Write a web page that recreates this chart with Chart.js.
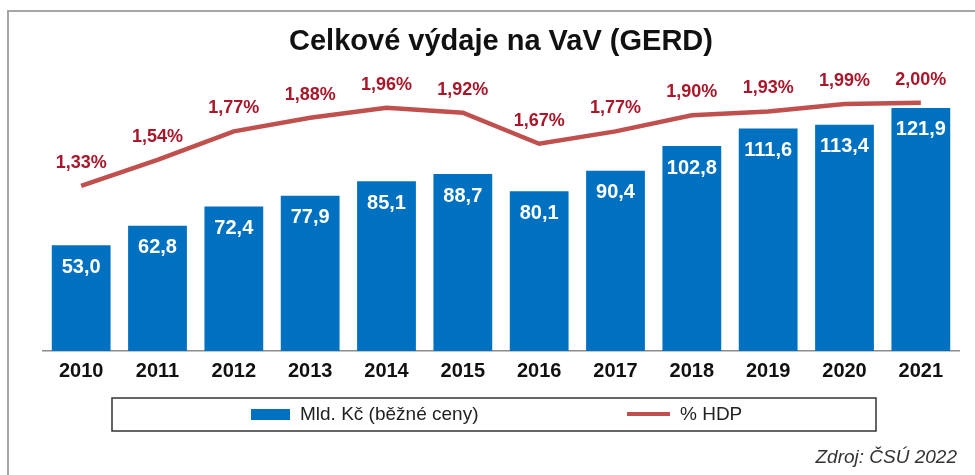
<!DOCTYPE html>
<html>
<head>
<meta charset="utf-8">
<script src="https://cdn.jsdelivr.net/npm/chart.js@4"></script>
<style>
  html, body { margin: 0; padding: 0; background: #fff; }
  #myChart { display: block; }
</style>
</head>
<body>
<canvas id="myChart" width="975" height="475"></canvas>
<script>
// data
const years = ['2010', '2011', '2012', '2013', '2014', '2015', '2016', '2017', '2018', '2019', '2020', '2021'];
const spending = [53.0, 62.8, 72.4, 77.9, 85.1, 88.7, 80.1, 90.4, 102.8, 111.6, 113.4, 121.9]; // Mld. Kč
const gdpShare = [1.33, 1.54, 1.77, 1.88, 1.96, 1.92, 1.67, 1.77, 1.90, 1.93, 1.99, 2.00]; // % HDP

const barColor = '#0070C0';
const lineColor = '#C0504D';
const lineLabelColor = '#A8172A';
const fontFamily = '"Liberation Sans", Arial, sans-serif';

// frame, value labels, legend and source note
const decorations = {
  id: 'decorations',
  beforeDraw(chart) {
    const c = chart.ctx;
    c.save();
    c.fillStyle = '#fff';
    c.fillRect(0, 0, chart.width, chart.height);
    c.strokeStyle = '#a6a6a6';
    c.lineWidth = 2;
    c.beginPath();
    c.moveTo(8, chart.height);
    c.lineTo(8, 11);
    c.lineTo(chart.width, 11);
    c.stroke();
    c.restore();
  },
  afterDatasetsDraw(chart) {
    const c = chart.ctx;
    c.save();
    c.textAlign = 'center';
    c.textBaseline = 'middle';

    // bar values
    const barMeta = chart.getDatasetMeta(1);
    c.fillStyle = '#fff';
    c.font = 'bold 20px ' + fontFamily;
    barMeta.data.forEach((el, i) => {
      c.fillText(spending[i].toFixed(1).replace('.', ','), el.x, el.y + 22);
    });

    // line values
    const lineMeta = chart.getDatasetMeta(0);
    c.fillStyle = lineLabelColor;
    c.font = 'bold 18px ' + fontFamily;
    lineMeta.data.forEach((el, i) => {
      c.fillText(gdpShare[i].toFixed(2).replace('.', ',') + '%', el.x, el.y - 23);
    });
    c.restore();
  },
  afterDraw(chart) {
    const c = chart.ctx;
    const ds = chart.data.datasets;
    c.save();

    // legend box
    c.strokeStyle = '#333';
    c.lineWidth = 1.5;
    c.strokeRect(112, 398, 764, 33);

    c.font = '19px ' + fontFamily;
    c.textBaseline = 'middle';

    c.fillStyle = ds[1].backgroundColor;
    c.fillRect(251, 409, 39, 11);
    c.fillStyle = '#222';
    c.fillText(ds[1].label, 300, 415);

    c.strokeStyle = ds[0].borderColor;
    c.lineWidth = 4;
    c.beginPath();
    c.moveTo(627, 414);
    c.lineTo(670, 414);
    c.stroke();
    c.fillText(ds[0].label, 680, 415);

    // source
    c.font = 'italic 19px ' + fontFamily;
    c.textAlign = 'right';
    c.fillStyle = '#333';
    c.fillText('Zdroj: ČSÚ 2022', 957, 458);
    c.restore();
  }
};

const ctx = document.getElementById('myChart');

const myChart = new Chart(ctx, {
  data: {
    labels: years,
    datasets: [
      {
        type: 'line',
        label: '% HDP',
        data: gdpShare,
        yAxisID: 'y1',
        borderColor: lineColor,
        borderWidth: 4.5,
        pointRadius: 0,
        tension: 0,
        order: 0
      },
      {
        type: 'bar',
        label: 'Mld. Kč (běžné ceny)',
        data: spending,
        yAxisID: 'y',
        backgroundColor: barColor,
        categoryPercentage: 1,
        barPercentage: 0.77,
        order: 1
      }
    ]
  },
  options: {
    responsive: false,
    animation: false,
    devicePixelRatio: 1,
    layout: {
      padding: { left: 43, right: 16, top: 10, bottom: 84 }
    },
    plugins: {
      legend: { display: false },
      tooltip: { enabled: false },
      title: {
        display: true,
        text: 'Celkové výdaje na VaV (GERD)',
        color: '#111',
        font: { family: fontFamily, size: 29, weight: 'bold' },
        padding: { top: 15, bottom: 12 }
      }
    },
    scales: {
      x: {
        grid: { display: false, drawTicks: false },
        border: { display: true, color: '#8c8c8c', width: 1.5 },
        ticks: {
          color: '#111',
          padding: 8,
          font: { family: fontFamily, size: 20, weight: 'bold' }
        }
      },
      y: {
        display: false,
        min: 0,
        max: 140
      },
      y1: {
        display: false,
        min: 0,
        max: 2.25
      }
    }
  },
  plugins: [decorations]
});
</script>
</body>
</html>
